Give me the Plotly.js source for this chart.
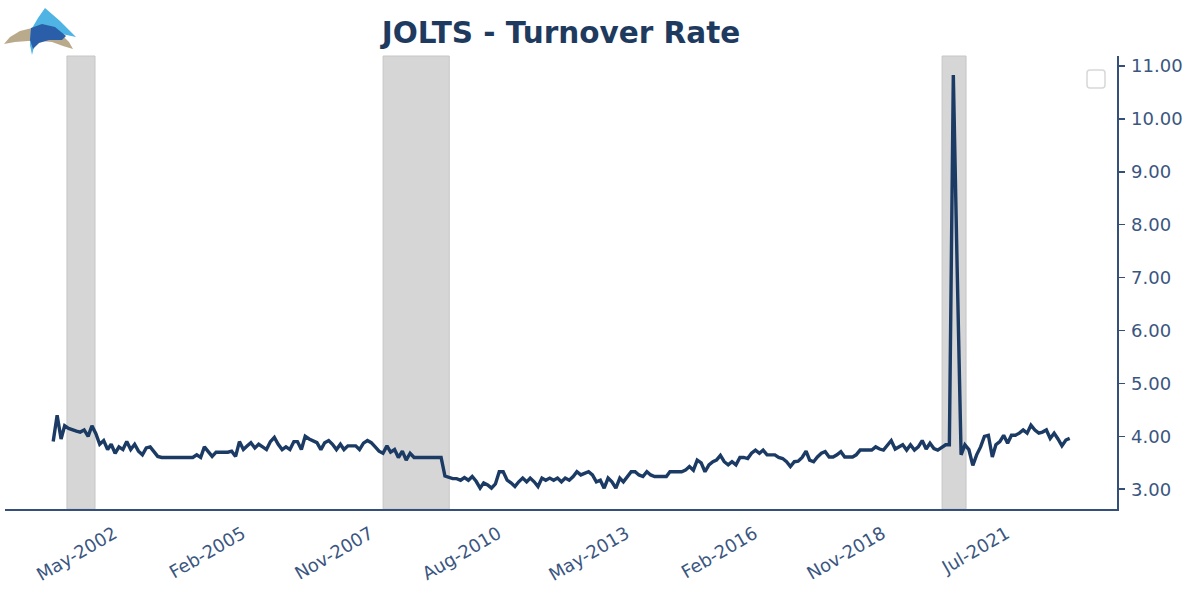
<!DOCTYPE html>
<html>
<head>
<meta charset="utf-8">
<script src="https://cdn.plot.ly/plotly-3.0.1.min.js"></script>
<style>
html,body{margin:0;padding:0;background:#fff;}
#chart{width:1191px;height:593px;}
</style>
</head>
<body>
<div id="chart"></div>
<script>
// ---- Data: JOLTS turnover rate (%), monthly, starting Dec 2000 ----
const seriesStart = [2000, 12];
const v2000 = [3.90];
const v2001 = [4.40, 3.95, 4.20, 4.15, 4.12, 4.10, 4.08, 4.12, 4.00, 4.20, 4.05, 3.85];
const v2002 = [3.92, 3.75, 3.85, 3.68, 3.80, 3.75, 3.90, 3.75, 3.85, 3.72, 3.65, 3.78];
const v2003 = [3.80, 3.70, 3.62, 3.60, 3.60, 3.60, 3.60, 3.60, 3.60, 3.60, 3.60, 3.60];
const v2004 = [3.65, 3.60, 3.80, 3.70, 3.62, 3.70, 3.70, 3.70, 3.70, 3.72, 3.62, 3.90];
const v2005 = [3.75, 3.82, 3.88, 3.78, 3.85, 3.80, 3.75, 3.90, 3.98, 3.85, 3.75, 3.80];
const v2006 = [3.75, 3.90, 3.90, 3.75, 4.00, 3.95, 3.92, 3.88, 3.75, 3.88, 3.92, 3.85];
const v2007 = [3.75, 3.85, 3.75, 3.82, 3.82, 3.82, 3.75, 3.87, 3.92, 3.88, 3.80, 3.72];
const v2008 = [3.68, 3.82, 3.70, 3.75, 3.60, 3.72, 3.55, 3.68, 3.60, 3.60, 3.60, 3.60];
const v2009 = [3.60, 3.60, 3.60, 3.60, 3.25, 3.22, 3.20, 3.20, 3.17, 3.22, 3.17, 3.24];
const v2010 = [3.15, 3.02, 3.12, 3.08, 3.02, 3.10, 3.33, 3.33, 3.17, 3.12, 3.05, 3.14];
const v2011 = [3.21, 3.14, 3.21, 3.14, 3.05, 3.21, 3.17, 3.21, 3.17, 3.21, 3.14, 3.21];
const v2012 = [3.17, 3.24, 3.33, 3.27, 3.30, 3.33, 3.27, 3.14, 3.17, 3.02, 3.21, 3.14];
const v2013 = [3.02, 3.21, 3.14, 3.24, 3.33, 3.33, 3.27, 3.24, 3.33, 3.27, 3.24, 3.24];
const v2014 = [3.24, 3.24, 3.33, 3.33, 3.33, 3.33, 3.36, 3.43, 3.36, 3.55, 3.50, 3.33];
const v2015 = [3.46, 3.52, 3.55, 3.64, 3.52, 3.46, 3.52, 3.46, 3.60, 3.60, 3.58, 3.68];
const v2016 = [3.74, 3.68, 3.74, 3.65, 3.65, 3.65, 3.60, 3.58, 3.52, 3.43, 3.52, 3.53];
const v2017 = [3.60, 3.72, 3.55, 3.52, 3.61, 3.68, 3.71, 3.61, 3.61, 3.65, 3.71, 3.61];
const v2018 = [3.61, 3.61, 3.65, 3.74, 3.74, 3.74, 3.74, 3.80, 3.76, 3.74, 3.84, 3.92];
const v2019 = [3.76, 3.80, 3.84, 3.74, 3.84, 3.74, 3.80, 3.92, 3.76, 3.87, 3.77, 3.74];
const v2020 = [3.80, 3.84, 3.84, 10.83, 7.20, 3.65, 3.84, 3.75, 3.45, 3.65, 3.80, 4.00];
const v2021 = [4.02, 3.61, 3.84, 3.90, 4.02, 3.87, 4.02, 4.02, 4.06, 4.12, 4.06, 4.21];
const v2022 = [4.12, 4.06, 4.08, 4.12, 3.96, 4.06, 3.95, 3.82, 3.93, 3.96];

// Recession periods (shaded)
const recStart = ['2001-03-19', '2008-01-02', '2020-01-04'];
const recEnd   = ['2001-10-25', '2009-06-04', '2020-07-10'];

// X tick positions and labels
const xTickVals = ['2002-05-01','2005-02-01','2007-11-01','2010-08-01','2013-05-01','2016-02-01','2018-11-01','2021-07-01'];
const xTickText = ['May-2002','Feb-2005','Nov-2007','Aug-2010','May-2013','Feb-2016','Nov-2018','Jul-2021'];
const yTickVals = [3, 4, 5, 6, 7, 8, 9, 10, 11];

// ---- Build series ----
const values = [].concat(v2000, v2001, v2002, v2003, v2004, v2005, v2006, v2007, v2008,
  v2009, v2010, v2011, v2012, v2013, v2014, v2015, v2016, v2017, v2018, v2019, v2020, v2021, v2022);
const dates = [];
{
  let y = seriesStart[0], m = seriesStart[1];
  for (let i = 0; i < values.length; i++) {
    dates.push(y + '-' + String(m).padStart(2, '0') + '-01');
    m++; if (m > 12) { m = 1; y++; }
  }
}

// ---- Layout geometry ----
const W = 1191, H = 593;
const M = {l: 5, r: 74, t: 56, b: 84};
const PW = W - M.l - M.r, PH = H - M.t - M.b;
const px = (x) => (x - M.l) / PW;
const py = (y) => (H - M.b - y) / PH;
function poly(pts) {
  return 'M ' + pts.map(p => px(p[0]).toFixed(5) + ',' + py(p[1]).toFixed(5)).join(' L ') + ' Z';
}

const navy = '#1b3a64';
const axisCol = '#34507a';
const tickCol = '#3a5680';

const shapes = [];
for (let k = 0; k < recStart.length; k++) {
  shapes.push({type: 'rect', xref: 'x', yref: 'paper', x0: recStart[k], x1: recEnd[k], y0: 0, y1: 1,
    fillcolor: '#d6d6d6', line: {color: '#c6c6c6', width: 1}, layer: 'below'});
}
// empty legend box (rounded)
{
  const x0 = 1087, x1 = 1105, y0 = 70, y1 = 88, r = 3;
  const d = 'M ' + px(x0 + r) + ',' + py(y0) +
    ' L ' + px(x1 - r) + ',' + py(y0) + ' Q ' + px(x1) + ',' + py(y0) + ' ' + px(x1) + ',' + py(y0 + r) +
    ' L ' + px(x1) + ',' + py(y1 - r) + ' Q ' + px(x1) + ',' + py(y1) + ' ' + px(x1 - r) + ',' + py(y1) +
    ' L ' + px(x0 + r) + ',' + py(y1) + ' Q ' + px(x0) + ',' + py(y1) + ' ' + px(x0) + ',' + py(y1 - r) +
    ' L ' + px(x0) + ',' + py(y0 + r) + ' Q ' + px(x0) + ',' + py(y0) + ' ' + px(x0 + r) + ',' + py(y0) + ' Z';
  shapes.push({type: 'path', xref: 'paper', yref: 'paper', path: d, fillcolor: '#ffffff',
    line: {color: '#d8d8d8', width: 1.5}});
}
// logo
shapes.push({type: 'path', xref: 'paper', yref: 'paper', fillcolor: '#b9aa8c', line: {width: 0},
  path: poly([[4,44],[10,37],[20,31],[32,28],[42,27],[52,29],[62,35],[69,42],[73,49],[63,46],[52,42],[40,41],[28,41],[15,42]])});
shapes.push({type: 'path', xref: 'paper', yref: 'paper', fillcolor: '#4fb3e3', line: {width: 0},
  path: poly([[45,8],[60,21],[76,37],[62,34],[50,31],[40,35],[35,43],[32,55],[30,45],[31,30],[38,18]])});
shapes.push({type: 'path', xref: 'paper', yref: 'paper', fillcolor: '#2b5ea9', line: {width: 0},
  path: poly([[31,28],[42,24],[55,27],[66,36],[62,40],[49,40],[39,43],[33,49],[30,40]])});

const trace = {
  x: dates, y: values, type: 'scatter', mode: 'lines',
  line: {color: navy, width: 3.4}, hoverinfo: 'x+y', showlegend: false
};

const layout = {
  width: W, height: H,
  margin: M,
  paper_bgcolor: '#ffffff', plot_bgcolor: '#ffffff',
  showlegend: false,
  title: {
    text: 'JOLTS - Turnover Rate',
    x: 0.5, xref: 'paper', y: 1 - 33 / H, yref: 'container', yanchor: 'middle',
    font: {family: 'DejaVu Sans', size: 29.5, color: '#1f3a5f', weight: 'bold'}
  },
  xaxis: {
    type: 'date',
    range: ['1999-11-19', '2023-10-07'],
    tickmode: 'array', tickvals: xTickVals, ticktext: xTickText,
    tickangle: -30,
    ticks: 'outside', ticklen: 6, tickcolor: 'rgba(0,0,0,0)',
    ticklabelshift: -5,
    tickfont: {family: 'DejaVu Sans', size: 18, color: tickCol},
    showline: true, linecolor: axisCol, linewidth: 1.5,
    showgrid: false, zeroline: false
  },
  yaxis: {
    side: 'right',
    range: [2.626, 11.19],
    tickmode: 'array', tickvals: yTickVals, tickformat: '.2f',
    ticks: 'outside', ticklen: 6, tickwidth: 1.5, tickcolor: axisCol,
    ticklabelstandoff: 3,
    tickfont: {family: 'DejaVu Sans', size: 18, color: tickCol},
    showline: true, linecolor: axisCol, linewidth: 1.5,
    showgrid: false, zeroline: false
  },
  shapes: shapes
};

Plotly.newPlot('chart', [trace], layout, {displayModeBar: false, staticPlot: true});
</script>
</body>
</html>
